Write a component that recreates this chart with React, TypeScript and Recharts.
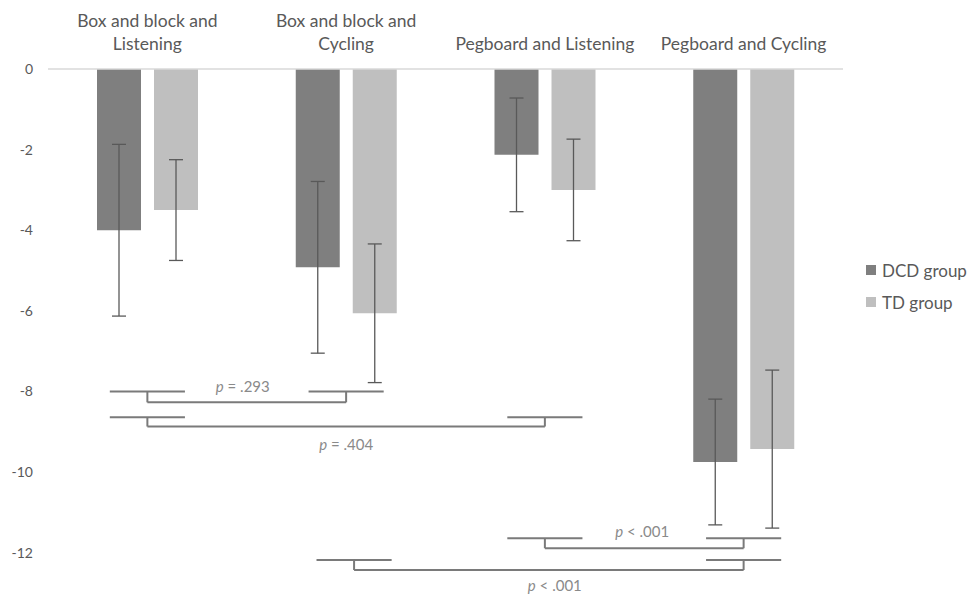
import React from 'react';
import { BarChart, Bar, XAxis, YAxis, ErrorBar, ReferenceLine, ReferenceDot, Legend } from 'recharts';

// ---- data ----
const categories = [
  'Box and block and\nListening',
  'Box and block and\nCycling',
  'Pegboard and Listening',
  'Pegboard and Cycling',
];
const dcdMeans = [-4.0, -4.92, -2.13, -9.75];
const tdMeans = [-3.5, -6.06, -3.0, -9.43];
const dcdErrors = [2.13, 2.13, 1.41, 1.56];
const tdErrors = [1.25, 1.72, 1.26, 1.96];
const yTicks = [0, -2, -4, -6, -8, -10, -12];
const seriesNames = ['DCD group', 'TD group'];

// significance brackets: groups compared (index), levels in y units
const bracketFrom = [0, 0, 2, 1];
const bracketTo = [1, 2, 3, 3];
const bracketTop = [-8.0, -8.64, -11.64, -12.18];
const bracketBottom = [-8.27, -8.87, -11.89, -12.43];
const bracketOp = ['=', '=', '<', '<'];
const bracketP = ['.293', '.404', '.001', '.001'];
const bracketLabelX = [0.98, 1.5, 2.99, 2.55];
const bracketLabelY = [-7.9, -9.33, -11.49, -12.82];
const bracketFromShift = [0, 0, 0, 0.04];

const data = categories.map((name, i) => ({
  name,
  pos: i + 0.5,
  dcd: dcdMeans[i],
  td: tdMeans[i],
  dcdErr: dcdErrors[i],
  tdErr: tdErrors[i],
}));

const FONT = 'Lato, "Open Sans", sans-serif';
const TEXT = '#595959';
const DCD_COLOR = '#7f7f7f';
const TD_COLOR = '#bfbfbf';
const BRACKET = '#7a7a7a';
const HALF = 0.189;

const CategoryTick = (props: any) => {
  const { x, y, payload } = props;
  const lines = String(payload.value).split('\n');
  const n = lines.length;
  return (
    <g>
      {lines.map((l, k) => (
        <text
          key={k}
          x={x}
          y={y - 11.5 - 23 * (n - 1 - k)}
          textAnchor="middle"
          fill={TEXT}
          fontFamily={FONT}
          fontSize={17.5}
        >
          {l}
        </text>
      ))}
    </g>
  );
};

const LegendContent = () => {
  const colors = [DCD_COLOR, TD_COLOR];
  return (
    <div style={{ fontFamily: FONT, fontSize: 17, color: TEXT }}>
      {seriesNames.map((s, i) => (
        <div key={s} style={{ display: 'flex', alignItems: 'center', height: 32 }}>
          <span style={{ display: 'inline-block', width: 10, height: 10, background: colors[i], marginRight: 6 }} />
          <span>{s}</span>
        </div>
      ))}
    </div>
  );
};

export default function App() {
  const segs: any[] = [];
  bracketFrom.forEach((f, i) => {
    const a = f + 0.5 + bracketFromShift[i];
    const b = bracketTo[i] + 0.5;
    const t = bracketTop[i];
    const bt = bracketBottom[i];
    segs.push([{ x: a - HALF, y: t }, { x: a + HALF, y: t }]);
    segs.push([{ x: a, y: t }, { x: a, y: bt }]);
    segs.push([{ x: a, y: bt }, { x: b, y: bt }]);
    segs.push([{ x: b, y: bt }, { x: b, y: t }]);
    segs.push([{ x: b - HALF, y: t }, { x: b + HALF, y: t }]);
  });

  return (
    <div style={{ position: 'absolute', left: 0, top: 0, background: '#fff' }}>
      <BarChart
        width={968}
        height={595}
        data={data}
        margin={{ top: 0, right: 125, bottom: 2, left: 0 }}
        barSize={44}
        barGap={13}
      >
        <XAxis
          xAxisId="cat"
          dataKey="name"
          orientation="top"
          height={69}
          axisLine={false}
          tickLine={false}
          tick={<CategoryTick />}
          interval={0}
        />
        <XAxis xAxisId="num" dataKey="pos" type="number" domain={[0, 4]} allowDataOverflow hide />
        <YAxis
          domain={[-13, 0]}
          ticks={yTicks}
          allowDataOverflow
          width={48}
          axisLine={false}
          tickLine={false}
          tickMargin={9}
          tick={{ fill: TEXT, fontFamily: FONT, fontSize: 14 }}
        />
        <ReferenceLine xAxisId="cat" y={0} stroke="#d9d9d9" strokeWidth={1.3} />
        <Bar xAxisId="cat" dataKey="dcd" name={seriesNames[0]} fill={DCD_COLOR} isAnimationActive={false}>
          <ErrorBar dataKey="dcdErr" width={7} stroke={TEXT} strokeWidth={1.3} direction="y" />
        </Bar>
        <Bar xAxisId="cat" dataKey="td" name={seriesNames[1]} fill={TD_COLOR} isAnimationActive={false}>
          <ErrorBar dataKey="tdErr" width={7} stroke={TEXT} strokeWidth={1.3} direction="y" />
        </Bar>
        {segs.map((s, i) => (
          <ReferenceLine
            key={'s' + i}
            xAxisId="num"
            segment={s}
            stroke={BRACKET}
            strokeWidth={2}
            ifOverflow="visible"
          />
        ))}
        {bracketP.map((p, i) => (
          <ReferenceDot
            key={'p' + i}
            xAxisId="num"
            x={bracketLabelX[i]}
            y={bracketLabelY[i]}
            r={0}
            ifOverflow="visible"
            shape={(props: any) => (
              <text
                x={props.cx}
                y={props.cy}
                dy={5}
                textAnchor="middle"
                fill="#8a8a8a"
                fontFamily={FONT}
                fontSize={15}
              >
                <tspan fontStyle="italic">p</tspan>
                {' ' + bracketOp[i] + ' ' + p}
              </text>
            )}
          />
        ))}
        <Legend
          layout="vertical"
          align="center"
          verticalAlign="middle"
          wrapperStyle={{ left: 866, top: 254, width: 102 }}
          content={<LegendContent />}
        />
      </BarChart>
    </div>
  );
}
